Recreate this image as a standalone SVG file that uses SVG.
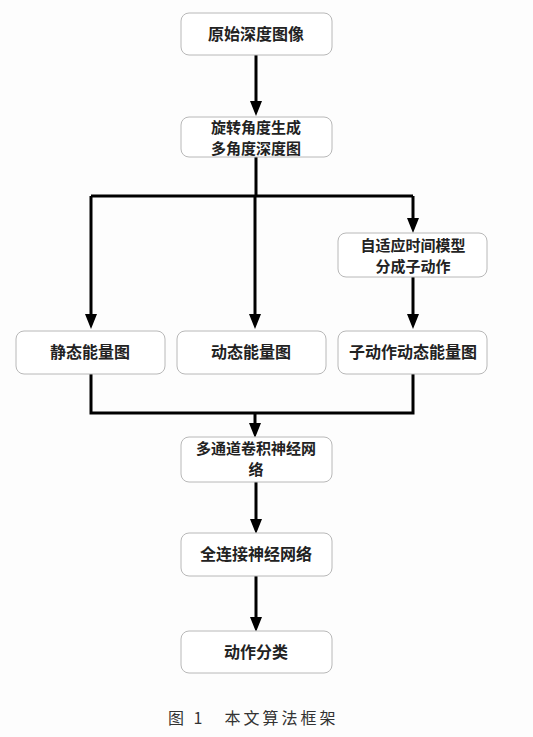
<svg xmlns="http://www.w3.org/2000/svg" width="533" height="737" viewBox="0 0 533 737">
<style>
.box{fill:#ffffff;stroke:#b8b8b8;stroke-width:1}
.t{font-family:"Noto Sans CJK SC",sans-serif;font-size:16px;font-weight:bold;fill:#222;text-anchor:middle}
.t2{font-family:"Noto Sans CJK SC",sans-serif;font-size:15px;font-weight:bold;fill:#222;text-anchor:middle}
.c{fill:none;stroke:#000;stroke-width:3}
.cap{font-family:"Noto Sans CJK SC",serif;font-size:16px;fill:#333;letter-spacing:3px}
</style>
<rect width="533" height="737" fill="#fdfdfd"/>
<g id="connectors">
<path class="c" d="M256,55 V102"/>
<path class="c" d="M256,157 V196"/>
<path class="c" d="M91,196 H413"/>
<path class="c" d="M91,196 V316"/>
<path class="c" d="M255,196 V316"/>
<path class="c" d="M413,196 V220"/>
<path class="c" d="M413,277 V316"/>
<path class="c" d="M91,374 V413 H413 V374"/>
<path class="c" d="M255,413 V425"/>
<path class="c" d="M256,482 V521"/>
<path class="c" d="M256,576 V619"/>
<path d="M250,101 L262,101 L256,116 Z M85,314 L97,314 L91,329 Z M249,314 L261,314 L255,329 Z M407,218 L419,218 L413,233 Z M407,314 L419,314 L413,329 Z M249,423 L261,423 L255,438 Z M250,519 L262,519 L256,534 Z M250,617 L262,617 L256,632 Z" fill="#000"/>
</g>
<g id="n1"><rect class="box" x="181" y="13" width="151" height="42" rx="8"/><text class="t" x="256" y="40">原始深度图像</text></g>
<g id="n2"><rect class="box" x="181" y="117" width="151" height="40" rx="8"/><text class="t2" x="256" y="133">旋转角度生成</text><text class="t2" x="256" y="154">多角度深度图</text></g>
<g id="n3"><rect class="box" x="338" y="233" width="149" height="44" rx="8"/><text class="t2" x="413" y="251">自适应时间模型</text><text class="t2" x="413" y="272">分成子动作</text></g>
<g id="n4"><rect class="box" x="16" y="331" width="149" height="43" rx="8"/><text class="t" x="90" y="358">静态能量图</text></g>
<g id="n5"><rect class="box" x="177" y="331" width="149" height="43" rx="8"/><text class="t" x="251" y="358">动态能量图</text></g>
<g id="n6"><rect class="box" x="338" y="331" width="149" height="43" rx="8"/><text class="t" x="413" y="358">子动作动态能量图</text></g>
<g id="n7"><rect class="box" x="181" y="437" width="151" height="45" rx="8"/><text class="t2" x="256" y="454">多通道卷积神经网</text><text class="t2" x="256" y="475">络</text></g>
<g id="n8"><rect class="box" x="181" y="533" width="151" height="43" rx="8"/><text class="t" x="256" y="560">全连接神经网络</text></g>
<g id="n9"><rect class="box" x="181" y="631" width="151" height="42" rx="8"/><text class="t" x="256" y="658">动作分类</text></g>
<text class="cap" x="168" y="724">图 1　本文算法框架</text>
</svg>
